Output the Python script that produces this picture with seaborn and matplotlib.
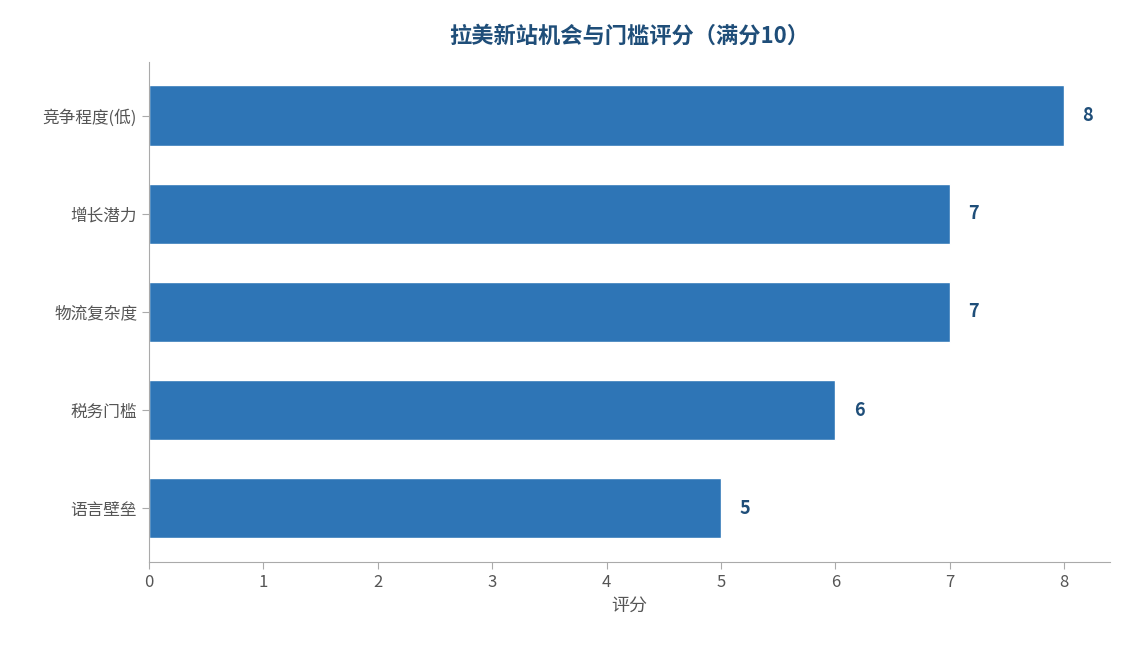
import matplotlib
matplotlib.use("Agg")
import matplotlib.pyplot as plt
import seaborn as sns
import pandas as pd

categories = ['竞争程度(低)', '增长潜力', '物流复杂度', '税务门槛', '语言壁垒']
scores = [8, 7, 7, 6, 5]

sns.set_style('white')
plt.rcParams['font.family'] = ['Noto Sans CJK SC', 'DejaVu Sans']

df = pd.DataFrame({'category': categories, 'score': scores})

fig = plt.figure(figsize=(11.25, 6.45), dpi=100)
ax = fig.add_axes([0.1324, 0.1287, 0.8543, 0.7753])
sns.barplot(data=df, x='score', y='category', color='#2E75B6', saturation=1,
            width=0.62, ax=ax)

for i, v in enumerate(scores):
    ax.text(v + 0.16, i, str(v), va='center', ha='left', fontsize=13,
            fontweight='bold', color='#1F4E79')

ax.set_xlim(0, 8.4)
ax.set_ylim(4.55, -0.55)
ax.set_xlabel('评分', fontsize=13, color='#555555')
ax.set_ylabel('')
ax.set_title('拉美新站机会与门槛评分（满分10）', fontsize=16, fontweight='bold',
             color='#1F4E79', pad=14)
ax.tick_params(axis='both', labelsize=12, colors='#555555', length=5, color='#aaaaaa')
ax.tick_params(axis='both', which='both', bottom=True, left=True)
sns.despine(ax=ax)
for s in ['left', 'bottom']:
    ax.spines[s].set_color('#aaaaaa')

fig.savefig('out.png', dpi=100)
